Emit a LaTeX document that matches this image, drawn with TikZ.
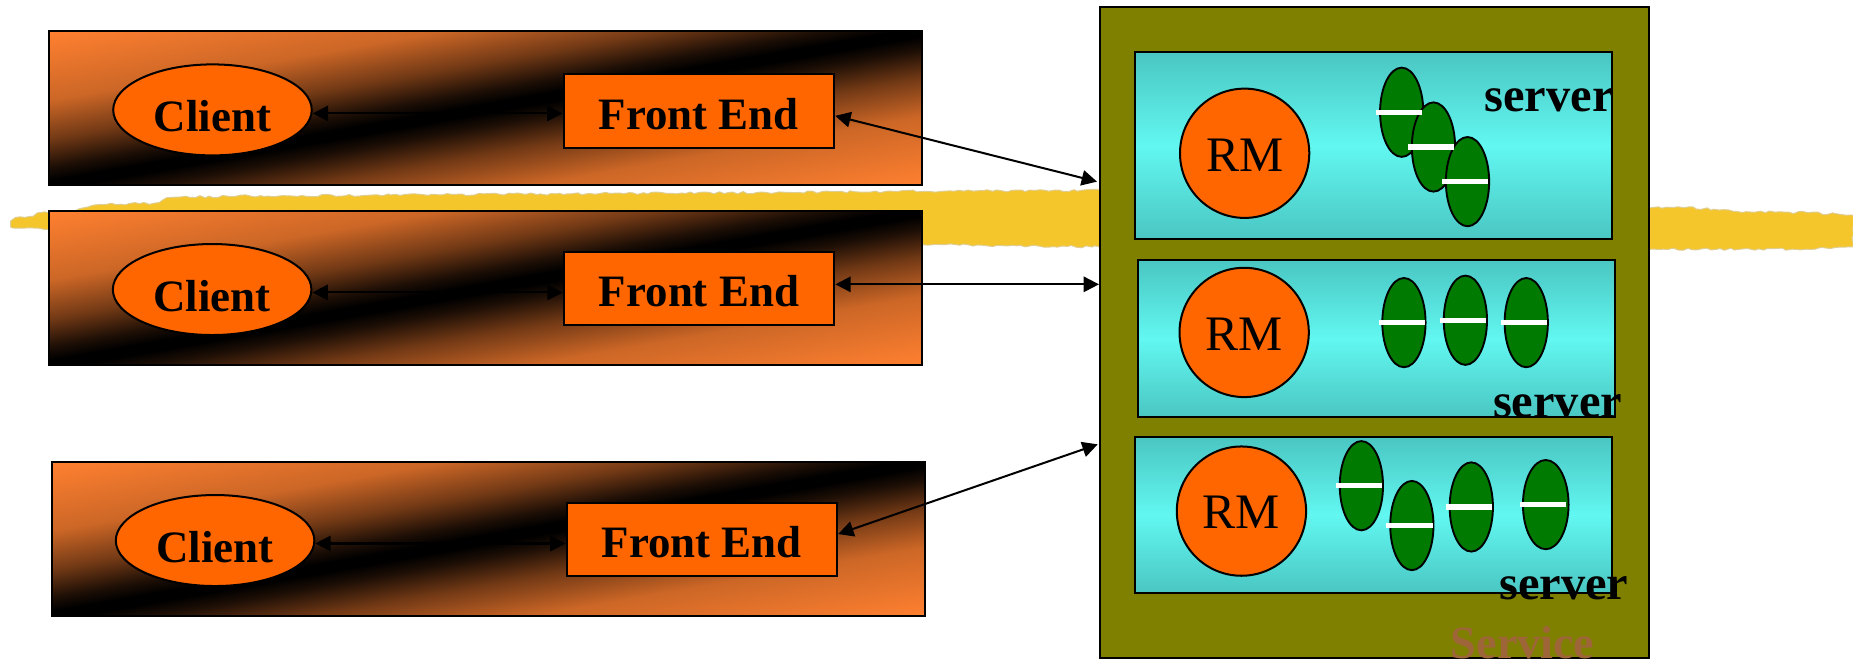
\documentclass[tikz,border=0pt]{standalone}
\usepackage{fontspec}
\setmainfont{Liberation Serif}
\usetikzlibrary{shapes.geometric,arrows.meta,decorations.pathmorphing}

\definecolor{panelor}{RGB}{255,128,48}
\colorlet{panelA}{panelor!80!black}
\colorlet{panelB}{panelor!45!black}
\colorlet{panelC}{panelor!12!black}
\definecolor{olivebg}{RGB}{128,128,0}
\definecolor{srvdark}{RGB}{74,198,194}
\definecolor{srvlight}{RGB}{98,247,241}
\definecolor{nodeor}{RGB}{255,102,0}
\definecolor{beangreen}{RGB}{0,122,0}
\definecolor{svctext}{RGB}{158,102,56}
\definecolor{hlgold}{RGB}{244,198,44}
\definecolor{hledge}{RGB}{222,206,150}

% orange -> black -> orange across the visible 25bp..75bp range
\pgfdeclareverticalshading{panelshade}{100bp}{%
  color(0bp)=(panelor); color(25bp)=(panelor);
  color(36.25bp)=(panelA); color(42.5bp)=(panelB); color(47bp)=(panelC);
  color(49.25bp)=(black); color(50.75bp)=(black);
  color(53bp)=(panelC); color(57.5bp)=(panelB); color(63.75bp)=(panelA);
  color(75bp)=(panelor); color(100bp)=(panelor)}

% panel background: a shaded square mapped onto the diamond around the panel,
% so the dark band runs along the diagonal from lower left to upper right
% #1,#2,#3,#4 = left, top, right, bottom; #5 = width/100; #6 = height/100;
% #7,#8 = canvas shift (centre x, -(centre y) - height)
\newcommand\panelgrad[8]{%
  \begin{scope}
    \clip (#1,#2) rectangle (#3,#4);
    \begin{scope}[transform canvas={cm={#5,#6,-#5,#6,(#7pt,#8pt)}}]
      \shade[shading=panelshade] (0pt,0pt) rectangle (100pt,100pt);
    \end{scope}
  \end{scope}}

\begin{document}
\begin{tikzpicture}[x=1pt,y=-1pt,
  panel/.style={rectangle, draw=black, line width=1.7pt, inner sep=0pt,
    minimum width=738.5pt, minimum height=130pt},
  clientnode/.style={ellipse, draw=black, line width=1.7pt, fill=nodeor,
    inner sep=0pt, minimum width=168pt, minimum height=77pt,
    font=\fontsize{38}{40}\selectfont\bfseries, text height=36.4pt, text depth=0pt},
  fenode/.style={rectangle, draw=black, line width=1.7pt, fill=nodeor,
    inner sep=0pt, minimum width=229pt, minimum height=62pt,
    font=\fontsize{38}{40}\selectfont\bfseries, text height=30.5pt, text depth=0pt},
  link/.style={line width=1.7pt,
    {Triangle[length=13pt,width=13pt]}-{Triangle[length=13pt,width=13pt]}},
  svcbox/.style={rectangle, draw=black, line width=1.7pt, fill=olivebg, inner sep=0pt},
  srvbox/.style={rectangle, draw=black, line width=1.7pt, top color=srvdark,
    bottom color=srvdark, middle color=srvlight, inner sep=0pt, minimum width=403.6pt},
  rmnode/.style={circle, draw=black, line width=1.7pt, fill=nodeor, inner sep=0pt,
    minimum size=109.4pt, font=\fontsize{42}{44}\selectfont, text height=30pt, text depth=0pt},
  bean/.style={ellipse, draw=black, line width=1.6pt, fill=beangreen, inner sep=0pt,
    minimum width=36.6pt, minimum height=75.5pt},
  beanbar/.style={white, line width=4.3pt},
  srvlabel/.style={anchor=base west, inner sep=0pt, font=\fontsize{41}{43}\selectfont\bfseries},
]
\useasboundingbox (0,0) rectangle (1568,559);
\fill[white] (0,0) rectangle (1568,559);

% highlighter stroke behind everything
\pgfmathsetseed{7}
\filldraw[fill=hlgold, draw=hledge, line width=0.8pt, decorate,
  decoration={random steps, segment length=4pt, amplitude=1pt}]
  (9,187) -- (13,184) -- (28,183) -- (34,180) -- (55,180) -- (75,175) -- (90,173)
  -- (130,172) -- (145,167) -- (200,166) -- (330,165) -- (480,164) -- (640,163)
  -- (760,162) -- (931,161) -- (1395,176) -- (1420,175) -- (1450,177) -- (1470,179)
  -- (1530,180) -- (1568,182) -- (1568,209) -- (1520,211) -- (1395,211)
  -- (931,209) -- (860,208) -- (790,207) -- (600,200) -- (300,195) -- (41,194)
  -- (15,193) -- (9,192) -- cycle;

% client panels
\panelgrad{41.5}{26.65}{780}{156.65}{7.385}{1.3}{410.75}{-221.65}
\panelgrad{41.5}{178.7}{780}{308.7}{7.385}{1.3}{410.75}{-373.7}
\panelgrad{43.7}{391}{782.6}{521}{7.389}{1.3}{413.15}{-586}
\node[panel] (p1) at (410.75,91.65) {};
\node[panel] (p2) at (410.75,243.7) {};
\node[panel, minimum width=738.9pt] (p3) at (413.15,456) {};

\node[clientnode] (client1) at (179.8,93) {Client};
\node[clientnode] (client2) at (179.5,245) {Client};
\node[clientnode] (client3) at (182,457.4) {Client};

\node[fenode] (fe1) at (591.4,94) {Front End};
\node[fenode] (fe2) at (591.5,244) {Front End};
\node[fenode] (fe3) at (593.9,456.3) {Front End};

\draw[link] ([yshift=-3pt]client1.east) -- ([yshift=-3pt]client1.east -| fe1.west);
\draw[link] ([yshift=-2.5pt]client2.east) -- ([yshift=-2.5pt]client2.east -| fe2.west);
\draw[link] ([yshift=-2.5pt]client3.east) -- ([yshift=-2.5pt]client3.east -| fe3.west);

% service with its three servers
\node[svcbox, minimum width=464.8pt, minimum height=551.4pt] (svc) at (1163.2,281.3) {};
\node[anchor=base west, inner sep=0pt, text=svctext,
  font=\fontsize{39}{41}\selectfont\bfseries] (svclabel) at (1227.6,557) {Service};

\node[srvbox, minimum height=157.9pt] (srv1) at (1162.2,123.25) {};
\node[srvbox, minimum height=133.1pt] (srv2) at (1164.4,286.55) {};
\node[srvbox, minimum height=132.5pt, minimum width=403.4pt] (srv3) at (1162.3,435.75) {};

\node[rmnode] (rm1) at (1053.2,129.7) {RM};
\node[rmnode] (rm2) at (1052.8,281.3) {RM};
\node[rmnode] (rm3) at (1050.5,432.5) {RM};

\node[bean] (g11) at (1186.1,95) {};
\node[bean] (g12) at (1213,124.4) {};
\node[bean] (g13) at (1241.8,153.7) {};
\foreach \g in {g11,g12,g13}
  \draw[beanbar] ([xshift=-21.5pt]\g.center) -- ([xshift=17.5pt]\g.center);

\node[bean] (g21) at (1188,273) {};
\node[bean] (g22) at (1240,271) {};
\node[bean] (g23) at (1291.5,273) {};
\foreach \g in {g21,g22,g23}
  \draw[beanbar] ([xshift=-21.5pt]\g.center) -- ([xshift=17.5pt]\g.center);

\node[bean] (g31) at (1152,411) {};
\node[bean] (g32) at (1194.7,444.7) {};
\node[bean] (g33) at (1245,429) {};
\node[bean, minimum width=38.6pt] (g34) at (1308,427) {};
\foreach \g in {g31,g32,g33,g34}
  \draw[beanbar] ([xshift=-21.5pt]\g.center) -- ([xshift=17.5pt]\g.center);

\node[srvlabel] (lab1) at (1256,94.5) {server};
\node[srvlabel] (lab2) at (1263.2,353) {server};
\node[srvlabel] (lab3) at (1268.5,507.7) {server};

% front ends to the service
\coordinate (in1) at (928.3,153.7);
\coordinate (in3) at (928.9,376);
\draw[link] ([yshift=-4pt]fe1.east) -- (in1);
\draw[link] ([yshift=3.4pt]fe2.east) -- ([yshift=3.4pt]fe2.east -| svc.west);
\draw[link] ([yshift=4.4pt]fe3.east) -- (in3);
\end{tikzpicture}
\end{document}
